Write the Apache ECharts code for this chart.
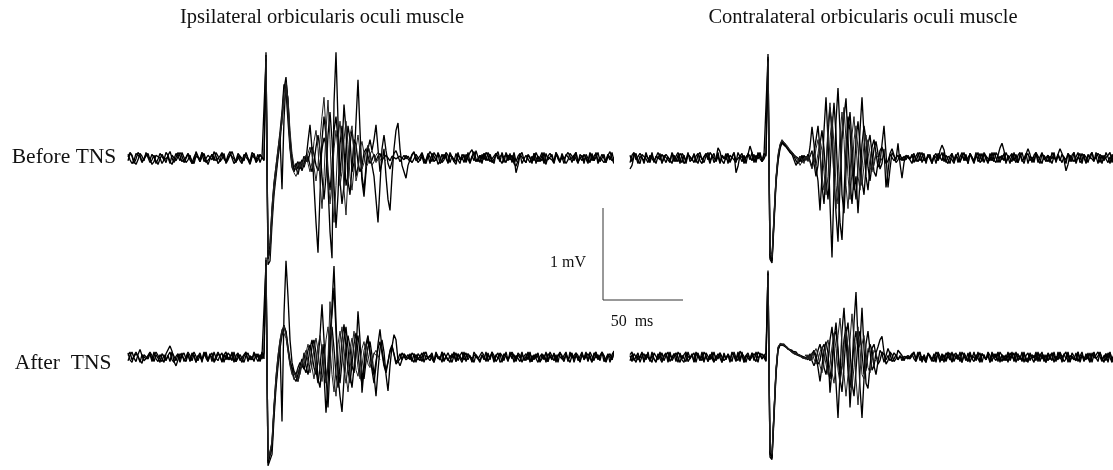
<!DOCTYPE html>
<html>
<head>
<meta charset="UTF-8">
<title>Blink reflex before / after TNS</title>
<script src="https://cdn.jsdelivr.net/npm/echarts@6/dist/echarts.min.js"></script>
<style>
    html, body { margin: 0; padding: 0; background: #fff; }
    #main { width: 1113px; height: 470px; }
</style>
</head>
<body>
<div id="main"></div>
<script>
    // sample period of the traces (ms); amplitudes are in units of 0.01 mV
    var dt = 1.25;
    var ipsiStim = 86.25;   // stimulus time inside the ipsilateral window (ms)
    var contraStim = 87.5;  // stimulus time inside the contralateral window (ms)
    var windowMs = 302.5;

    // scale bar: 50 ms / 1 mV
    var scaleMs = [0, 0, 50];
    var scaleMv = [1, 0, 0];

    // ---------- ipsilateral, before TNS ----------
    var ipsiBeforePre1 = [4,-2,-6,-3,5,7,1,-5,-3,4,6,-1,-7, -4,3,5,0,-6,-2,6,3,-4,-7,-1,5,2, -3,6,4,-5,-2,3,-6,-3,7,2,-4,1,5, -2,-7,-1,4,6,-3,-5,2,6,-1,-4,3,7, 0,-6,-3,5,2,-4,4,6,-2,-7,1,5,-3, -5,3,4,-2];
    var ipsiBeforePre2 = [-3,5,2,-6,-1,6,3,-4,-6,2,5,-2,4, 6,-3,-7,-1,4,2,-5,3,7,0,-5,-3,6, 2,-4,-6,1,5,3,-3,-6,2,4,-1,6,-4, -5,3,1,-2,7,2,-6,-3,5,1,-4,-2,4, 6,-1,-5,3,-3,-6,2,5,0,-4,6,3,-5, -2,4,1,-3];
    var ipsiBeforePre3 = [1,6,3,-4,-7,-2,5,2,-3,6,4,-5,-2, 3,-6,-1,5,7,-2,-4,1,-6,3,5,-3,-1, 6,2,-5,-3,4,-2,-6,1,5,3,-4,6,2, -5,-7,0,4,-3,6,2,-4,-1,5,-6,-2,3, 7,1,-4,-5,2,4,-3,6,-1,-6,3,5,-2, 4,-5,1,3];
    var ipsiBeforeResp1 = [115,-116,-112,-72,-40,-20,0,18,42,75, 88,58,16,-4,-10,-6,-12,-4,-14,-6, 2,-4,6,12,4,-8,-14,-6,10,22, 14,-30,-80,-109,60,115,40,-20,10,58, 30,-25,-40,-10,20,15,-5,-15,-8,6, 10,2,-6,-2,4,-3,2,5,-2,-4, 3,1,-3,2,4,-1,-3,2,1,-2, 3,-1];
    var ipsiBeforeResp2 = [112,-110,-100,-62,-32,-14,4,22,-34,42, 84,62,22,0,-14,-10,-18,-8,-2,-10, -2,18,36,10,-30,-70,-103,-40,20,45, 25,-15,-35,-10,30,45,20,-25,-50,-30, 10,35,20,-15,-5,40,85,30,-20,-35, -10,12,5,-8,-20,-45,-70,-30,10,25, 8,-6,-12,-4,5,8,2,-4,-2,3, -1,2];
    var ipsiBeforeResp3 = [108,-105,-95,-56,-28,-10,8,28,50,80, 72,40,10,-10,-15,-8,-4,-12,-6,2, -4,2,-8,-15,-5,12,25,10,-20,-45, -20,25,50,20,-30,-76,-40,15,35,10, -30,-20,15,30,10,-20,-10,12,-25,-42, -15,10,20,8,20,36,10,-15,-5,10, -20,-45,-57,-20,10,30,38,10,-8,-15, -22,-8];
    var ipsiBeforeResp4 = [110,-108,-104,-66,-36,-16,4,24,48,70, 82,50,12,-8,-16,-20,-14,-6,-10,0, 3,-6,-15,-5,18,30,10,-25,-55,-20, 30,63,20,-40,-70,-30,20,40,15,-35, -62,-20,25,35,5,-25,-15,10,18,5, -10,-6,4,8,2,-5,-3,2,4,-1, -3];
    var ipsiBeforeResp5 = [105,-100,-92,-52,-26,-8,10,26,38,60, 76,66,30,5,-8,-12,-6,-10,-4,-8, -3,5,12,4,-10,-25,-8,20,45,66, 30,-20,-50,-25,10,30,8,-30,-15,20, 40,15,-20,-35,-12,10,25,8,-12,-5, 8,14,4,-8,-4,3,6,-2,-3];
    var ipsiBeforePost1 = [-4,3,6,1,-5,-2,5,-3,-6,2,7,3,-4, -1,5,-6,-3,4,2,-5,6,1,-4,-7,3,5, -2,4,-5,1,6,9,2,-4,-6,3,-1,5,-3, 6,2,-5,-4,3,7,-2,-6,1,4,-3,5,-5, 2,-16,-8,3,6,-2,-5,4,1,-6,5,3,-4, -2,6,-3,-7,2,5,1,-4,6,-1,-5,3,4, -6,-2,5,2,-3,6,-4,-1,3,-6,4,2,-5, 5,-3,1,6,-4,-2,4,-5,3,7,-1,-6,2];
    var ipsiBeforePost2 = [3,-5,-1,4,6,-3,2,-6,-2,5,1,-4,6, 2,-7,-3,4,-1,6,3,-5,2,-4,5,-2,-6, 4,1,-3,6,-5,2,7,-1,-4,3,-6,5,1, -3,4,-2,-6,5,2,-4,6,-1,-5,3,1,-3, 6,-4,2,5,-6,-1,3,4,-5,2,-3,6,1, -4,3,-6,5,-2,-1,4,-5,6,2,-3,1,-6, 4,5,-2,-4,3,6,-5,1,-3,4,-1,-6,5, 2,-3,6,-4,1,3,-5,-2,4,6,-3,1,-4];
    var ipsiBeforePost3 = [-2,4,7,-3,-5,2,6,-1,-4,3,-6,5,2, -3,6,1,-5,-2,4,-6,3,5,-1,-4,6,-2, 1,-5,4,3,-6,2,-3,8,1,-5,4,-2,6, 3,-4,-6,2,5,-1,-3,4,-5,6,1,-2,3, -6,-9,-3,4,6,-2,-5,3,1,-4,5,-6,2, 4,-3,6,-5,1,3,-2,-6,4,2,-4,5,-1, -3,6,2,-5,3,-1,-6,4,5,-2,1,-4,6, -3,2,5,-6,-1,4,3,-5,2,-2,6,-4,1];

    // ---------- ipsilateral, after TNS ----------
    var ipsiAfterPre1 = [5,-3,-6,2,6,1,-4,-7,3,5,-2,4,-5, 1,6,8,-2,-5,3,-4,2,6,-3,-6,1,4, -2,5,-5,-3,6,2,-4,3,-6,1,5,-3,-1, 6,-4,2,5,-6,-2,4,1,-5,3,6,-3,-1, 4,-6,2,5,-4,-2,3,6,-5,1,-3,4,2, -5,3,-2,5];
    var ipsiAfterPre2 = [-4,2,6,-1,-5,3,9,2,-4,-6,1,5,-3, 6,-2,-5,3,1,-6,4,2,13,7,-5,-10,-3, 4,6,-2,-5,3,-4,5,1,-6,2,4,-3,6, -1,-5,3,5,-4,-2,6,1,-6,3,-3,5,2, -4,6,-5,-1,3,4,-6,2,5,-3,1,-5,4, 2,-4,6,-2];
    var ipsiAfterPre3 = [2,6,-3,-5,4,1,-6,3,5,-2,-4,6,2, -5,3,-1,-6,4,5,-3,2,-5,6,1,-4,3, -6,2,5,-2,4,-5,-3,6,1,-4,3,-6,5, 2,-3,4,-5,6,-1,-4,2,5,-6,3,1,-3, 6,-2,-5,4,3,-6,1,5,-4,2,-3,6,-1, 4,-5,2,3];
    var ipsiAfterResp1 = [115,-125,-124,-112,-70,-35,-10,10,25,35, 30,12,-4,-12,-18,-22,-28,-15,-8,-14, -4,8,14,2,-12,-20,-5,25,61,20, -30,-10,30,50,80,30,-20,-45,-63,-25, 10,25,12,-10,-18,5,53,20,-41,-15, 12,20,5,-15,-30,-10,15,32,10,-8, -15,-5,6,12,4,-6,-2,4,-3,2, -1,3];
    var ipsiAfterResp2 = [112,-122,-120,-105,-62,-30,-5,12,-74,50, 111,70,20,-6,-16,-20,-12,-6,-12,5, -10,-20,-8,12,20,5,-25,-35,-10,15, -20,-58,-10,60,105,40,-15,-30,-5,20, 35,10,-20,-35,-12,15,25,5,-18,-25, -5,12,18,2,-20,-45,-15,10,20,6, -20,-39,-10,12,26,20,-4,-10,-3,4, 2,-2];
    var ipsiAfterResp3 = [108,-120,-118,-100,-58,-24,0,18,30,37, 28,10,-6,-14,-24,-28,-20,-10,-2,-12, -18,-6,10,20,8,-15,-30,-12,15,-20, -64,-30,15,35,10,-20,-35,-10,20,38, 12,-15,-30,-8,15,28,5,-20,-30,-8, 15,25,6,-12,-20,-5,10,18,4,-10, -18,-6,8,14,3,-8,-10,-2,5,3, -3,-1];
    var ipsiAfterResp4 = [110,-118,-116,-98,-60,-28,-4,14,28,36, 26,8,-8,-18,-26,-20,-28,-18,-6,-10, 5,15,4,-12,-25,-8,12,25,8,-15, -28,-5,64,20,-25,-45,-15,20,35,10, -20,-40,-15,12,30,10,-12,-25,-10,8, 15,3,-10,-6,4,8,2,-3];
    var ipsiAfterResp5 = [105,-115,-112,-95,-55,-22,2,20,32,34, 22,6,-10,-20,-16,-24,-14,-20,-8,2, 8,-5,-18,-8,10,22,8,-15,-28,-5, 20,35,12,-20,-40,-15,15,30,12,-15, -30,-12,10,22,6,-15,-22,-6,10,18, 4,-8,-12,-3,5,2];
    var ipsiAfterPost1 = [-3,5,2,-6,4,1,-5,3,6,-2,-4,5,-6, 2,4,-3,6,-5,1,3,-6,4,-1,5,-4,2, 6,-3,-5,4,1,-6,3,5,-2,-4,6,2,-5, 3,-1,6,-4,2,5,-6,-3,4,1,-5,6,-2, 3,-4,5,2,-6,1,4,-3,6,-5,2,-1,5, -6,3,4,-2,-5,6,1,-4,3,-6,5,2,-3, 4,-5,6,-1,-3,5,2,-6,4,-2,3,-5,6, 1,-4,5,-3,2,6,-5,-1,4,-6,3,7,-2];
    var ipsiAfterPost2 = [4,-2,-6,3,5,-4,1,6,-3,-5,2,4,-6, 5,1,-3,6,-4,-2,5,3,-6,2,-5,4,1, -3,6,-5,2,4,-1,-6,3,5,-4,2,-3,6, -5,1,4,-6,3,-2,5,2,-4,6,-3,-1,5, -6,2,4,-5,3,1,-4,6,-2,-5,3,5,-6, 1,4,-3,6,-5,2,-1,4,-6,3,5,-2,-4, 6,-3,1,5,-6,2,4,-5,3,-1,6,-4,2, -5,3,6,-2,-4,5,1,-6,3,4,-3,6,9];
    var ipsiAfterPost3 = [1,-5,4,6,-3,-1,5,-6,2,4,-4,3,-5, 6,-2,1,-6,5,3,-4,2,-1,6,-5,3,4, -6,1,5,-3,2,-5,6,4,-2,-6,3,1,-4, 5,-3,6,2,-5,-1,4,-6,3,5,-2,-4,6, 2,-5,3,-1,6,-4,1,5,-6,2,-3,4,6, -5,-2,3,-6,4,1,-3,5,-4,2,6,-1,-5, 3,4,-6,2,-2,5,-4,1,6,-3,-5,4,2, -6,5,-1,3,-4,6,2,-5,1,4,-3,5,8];

    // ---------- contralateral, before TNS ----------
    var contraBeforePre1 = [-12,-8,2,5,-3,-6,4,6,-1,-5,3,5,-4, -2,6,1,-5,-3,4,6,-2,-6,3,1,-4,5, 2,-6,-3,4,6,-1,-5,2,5,-3,-6,1,4, -2,6,3,-5,-1,11,7,-3,-6,2,5,-4,1, 6,-16,-9,3,5,-2,-4,4,13,6,-3,-5,2, 6,-4,-1,5];
    var contraBeforePre2 = [-5,3,6,-2,-4,5,1,-6,3,4,-3,6,-5, 2,-1,5,-6,3,4,-2,-5,6,1,-4,3,-6, 5,2,-3,6,-4,-1,4,-5,3,6,-2,-4,5, 1,-6,3,4,-3,6,-5,2,-1,5,-6,3,4, -2,-5,6,1,-4,3,-6,5,2,-3,4,-5,6, -1,-4,3,5];
    var contraBeforePre3 = [3,-4,5,1,-6,2,4,-3,6,-1,-5,3,5, -6,2,-2,4,6,-5,1,-3,5,-4,2,6,-1, -5,3,-6,4,1,-3,5,-2,-6,3,4,-5,2, 6,-3,-1,5,-4,2,-6,3,5,-2,4,-5,1, 6,-3,-4,2,5,-6,1,4,-2,6,-5,3,-1, 4,-3,5,2];
    var contraBeforeResp1 = [113,-110,-114,-72,-28,-4,10,17,15,13, 10,8,6,3,5,0,-4,2,-3,1, -2,12,34,15,-10,-25,-57,-20,30,66, 20,-50,-108,-30,40,76,30,-40,-60,-15, 30,50,15,-25,-45,-10,30,66,25,-20, -35,-10,12,20,5,-10,-5,15,35,5, -32,-12,6,8,-2,16,-6,-22,-5,3, 2,-2];
    var contraBeforeResp2 = [110,-108,-112,-68,-25,-2,12,16,14,12, 9,7,4,-2,-8,-4,2,-5,3,-2, 4,-3,-10,5,20,35,10,-30,-50,-15, 25,55,30,-20,-60,-91,-30,20,45,65, 20,-25,-50,-20,20,40,15,-25,-40,-10, 15,25,5,-15,-20,-5,8,12,2,-6, -3,4,2,-3,-1,3,-2,1,-3,2, 1,-1];
    var contraBeforeResp3 = [108,-105,-110,-66,-24,0,13,18,16,13, 10,6,5,2,-3,-6,-2,3,-4,2, -3,2,8,-6,-20,-8,15,30,10,-25, -45,-15,30,60,25,-30,-70,-89,-40,10, 45,30,-10,-35,-20,-60,-25,15,35,20, -10,-25,-8,10,18,5,-12,-6,10,-32, -15,5,10,3,-5,-2,4,-3,2,-2, 3,-1];
    var contraBeforeResp4 = [106,-104,-108,-64,-22,2,14,19,17,15, 12,9,7,4,1,-2,-8,-4,0,-3, 2,-5,-12,-4,10,20,5,-20,-35,-10, 35,60,25,-25,-55,-20,25,50,20,-30, -55,-20,25,45,15,-20,-35,-10,15,25, 8,-10,-15,-4,6,8,2,-3];
    var contraBeforeResp5 = [104,-100,-105,-60,-20,4,15,20,18,14, 11,8,5,3,0,-3,1,-2,-6,2, -4,3,6,-2,-8,5,20,8,-15,-40, -20,20,45,15,-30,-50,-15,30,55,20, -20,-45,-15,20,35,10,-20,-30,-8,12, 20,5,-12,-8,4,6,-2];
    var contraBeforePost1 = [-6,3,5,-4,2,6,-3,-5,1,4,-6,3,5, -2,8,14,9,-3,-6,2,5,-4,1,6,-5,3, -2,4,-6,5,1,-3,6,-4,-1,5,-5,2,4, -3,6,-2,-5,3,11,16,8,-4,-6,2,5,-3, 4,-5,1,6,-2,-4,10,4,-5,3,6,-2,-6, 5,1,-4,3,-5,6,2,-3,4,10,5,-2,-14, -7,3,5,-4,1,6,-5,-2,4,-6,3,5,-1, -4,6,2,-5,3,-3,6,1,-6,4,-2,5,3];
    var contraBeforePost2 = [4,-5,2,6,-3,-1,5,-6,3,4,-4,2,-6, 5,1,-3,6,-5,2,4,-2,-6,3,5,-4,1, 6,-3,-5,4,2,-6,3,-1,5,-4,6,2,-5, 1,-3,6,4,-5,2,-2,5,-6,3,1,-4,6, -2,-5,4,3,-6,2,5,-3,1,-5,6,4,-2, -6,3,5,-4,2,-1,6,-5,3,-3,4,1,-6, 5,2,-4,6,-3,-2,5,-6,4,1,-5,3,6, -2,-4,5,2,-6,3,4,-5,1,-3,6,-4,2];
    var contraBeforePost3 = [-2,5,-4,3,6,-5,1,-3,4,6,-6,2,5, -3,-1,6,-4,3,2,-6,5,-2,4,-5,1,6, -3,2,-6,5,3,-4,1,6,-5,-2,4,3,-6, 5,-1,-4,6,2,-5,3,-3,6,1,-6,4,2, -5,3,6,-4,-1,5,-6,2,4,-3,5,-5,1, 6,-2,-4,3,5,-6,2,-3,4,6,-5,1,-2, 5,-4,3,6,-6,1,-2,5,3,-5,4,-1,6, -3,2,-6,4,5,-2,-4,3,6,-5,1,-3,4];

    // ---------- contralateral, after TNS ----------
    var contraAfterPre1 = [2,-5,4,6,-3,-1,5,-6,3,2,-4,6,-2, -5,3,5,-6,1,4,-3,6,-4,-2,5,3,-6, 2,4,-5,6,-1,-3,5,-6,3,1,-4,6,2, -5,3,-2,6,-4,1,5,-6,3,-3,4,2,-5, 6,-1,-4,7,3,-6,2,5,-3,-5,4,1,-6, 5,-2,3,-4];
    var contraAfterPre2 = [-4,3,5,-6,2,-1,6,-5,3,4,-2,-6,5, 1,-3,6,-4,2,5,-6,3,-1,4,-5,6,2, -3,-6,4,5,-2,3,-5,6,1,-4,2,-6,5, 3,-3,6,-5,-1,4,2,-6,5,-2,3,-4,6, 1,-5,4,-3,6,-6,2,3,-4,5,-1,-5,6, 3,-2,-4,5];
    var contraAfterPre3 = [3,6,-4,-2,5,-6,1,4,-3,6,-5,2,3, -6,4,-1,5,-4,2,6,-5,-3,4,1,-6,5, -2,3,6,-5,-1,4,-6,2,5,-3,6,-4,1, -5,3,4,-6,2,-2,5,6,-4,-1,3,-6,5, 2,-3,6,-5,4,1,-6,3,-2,5,-4,6,-1, -3,4,2,-5];
    var contraAfterResp1 = [100,-115,-118,-70,-20,8,14,15,14,12, 10,8,7,5,6,3,4,1,3,-1, 2,-3,4,8,2,-12,-28,-10,8,18, 5,-41,-15,20,40,10,-25,-10,20,35, 5,-58,-20,40,75,20,-35,-70,-25,15, 30,8,-15,-10,5,12,20,24,6,-8, -4,6,3,-5,-2,8,10,2,-4,1, 3,-2];
    var contraAfterResp2 = [98,-112,-116,-66,-18,10,15,16,13,11, 10,9,6,7,4,5,2,3,0,2, -3,4,-4,-10,-3,8,15,5,-12,-20, -5,20,35,10,-30,-70,-20,30,57,20, -15,-35,-10,15,30,10,15,57,10,-30, -36,-10,10,15,2,-8,-4,6,3,-3, 2,-4,-1,5,2,-3,1,3,-2,0, 2,-1];
    var contraAfterResp3 = [96,-110,-114,-64,-16,9,14,16,15,12, 9,7,8,4,5,2,4,0,2,-2, 1,-4,3,6,-2,-8,-4,10,15,2, -15,-25,-5,25,30,5,-25,-40,-10,25, 40,10,-30,-45,-15,20,30,5,-20,-15, 5,15,8,-10,-20,-5,8,4,-6,2, 10,4,-5,-2,3,-3,2,-4,1,3, -2,1];
    var contraAfterResp4 = [95,-108,-112,-62,-14,11,16,17,15,13, 11,8,6,5,3,4,1,2,-1,3, -2,2,-3,5,10,3,-10,-18,-5,12, 20,4,-18,-30,-8,25,45,15,-20,-45, -20,20,50,20,-25,-55,-20,15,25,5, -12,-18,-4,8,4,-3];
    var contraAfterResp5 = [94,-106,-110,-60,-12,12,15,15,14,12, 10,8,5,6,3,2,3,-1,1,-2, 3,-3,5,-2,-8,-3,6,12,4,-8, -20,-8,12,28,10,-15,-30,-12,15,30, 12,-18,-35,-12,18,35,10,-20,-25,-6, 10,12,2,-6,-3];
    var contraAfterPost1 = [-3,5,-2,6,-4,1,3,-6,4,5,-2,-5,6, 2,-4,3,-6,5,1,-3,6,-5,2,4,-1,-6, 5,3,-4,6,-2,-5,3,1,-6,4,5,-3,2, -6,6,-1,-4,5,3,-5,2,-3,6,-4,1,5, -6,2,4,-3,6,-5,-1,3,5,-6,4,-2,1, 6,-5,3,-4,2,5,-6,1,-3,6,4,-5,-2, 3,-6,5,1,-4,6,-2,3,-5,4,2,-6,5, -1,-3,6,4,-5,2,-4,5,3,-6,1,6,-3];
    var contraAfterPost2 = [4,-2,-5,3,6,-4,1,-6,5,2,-3,4,-6, 6,1,-4,3,-5,2,5,-6,4,-2,3,-5,6, 1,-4,5,-6,2,3,-3,6,-5,4,1,-2,5, -6,3,-1,4,-5,6,2,-4,3,-6,5,1,-3, 6,-4,2,-5,4,3,-6,5,-1,2,-4,6,-5, 3,1,-6,4,-3,5,2,-5,6,-2,-4,3,6, -6,2,4,-3,5,-5,1,6,-4,3,-2,5,-6, 4,2,-5,6,-3,1,4,-6,5,-2,3,-4,6];
    var contraAfterPost3 = [-1,6,-4,2,5,-6,3,-3,4,6,-5,1,-2, 5,-6,4,3,-4,6,-1,-5,2,5,-3,6,-6, 2,4,-5,3,-2,6,-4,1,5,-6,3,-3,6, 2,-5,4,-1,6,-6,3,5,-4,2,-2,6,-5, 1,4,-3,6,-6,2,5,-4,3,-1,6,-5,4, -2,3,-6,5,1,-4,6,-3,2,5,-6,4,-2, 6,-5,1,3,-4,6,-6,2,4,-3,5,-5,1, 6,-2,-4,5,3,-6,4,-1,6,-5,2,3,-4];

    // build [ms, mV] points aligned on the stimulus
    function trace(stim, pre, resp, post) {
        var pts = [];
        pre.forEach(function (v, j) { pts.push([stim - (pre.length - j) * dt, v / 100]); });
        resp.concat(post || []).forEach(function (v, k) { pts.push([stim + k * dt, v / 100]); });
        return pts;
    }

    var panels = [
        { stim: ipsiStim, traces: [
            [ipsiBeforePre1, ipsiBeforeResp1, ipsiBeforePost1],
            [ipsiBeforePre2, ipsiBeforeResp2, ipsiBeforePost2],
            [ipsiBeforePre3, ipsiBeforeResp3, ipsiBeforePost3],
            [[], ipsiBeforeResp4], [[], ipsiBeforeResp5]] },
        { stim: ipsiStim, traces: [
            [ipsiAfterPre1, ipsiAfterResp1, ipsiAfterPost1],
            [ipsiAfterPre2, ipsiAfterResp2, ipsiAfterPost2],
            [ipsiAfterPre3, ipsiAfterResp3, ipsiAfterPost3],
            [[], ipsiAfterResp4], [[], ipsiAfterResp5]] },
        { stim: contraStim, traces: [
            [contraBeforePre1, contraBeforeResp1, contraBeforePost1],
            [contraBeforePre2, contraBeforeResp2, contraBeforePost2],
            [contraBeforePre3, contraBeforeResp3, contraBeforePost3],
            [[], contraBeforeResp4], [[], contraBeforeResp5]] },
        { stim: contraStim, traces: [
            [contraAfterPre1, contraAfterResp1, contraAfterPost1],
            [contraAfterPre2, contraAfterResp2, contraAfterPost2],
            [contraAfterPre3, contraAfterResp3, contraAfterPost3],
            [[], contraAfterResp4], [[], contraAfterResp5]] }
    ];

    // 1 mV = 92 px, 50 ms = 80 px
    var grids = [
        { left: 128, top: 38.4, width: 484, height: 239.2 },
        { left: 128, top: 244.4, width: 484, height: 239.2 },
        { left: 628, top: 38.4, width: 484, height: 239.2 },
        { left: 628, top: 244.4, width: 484, height: 239.2 },
        { left: 603, top: 208, width: 80, height: 92 }
    ];
    var xAxes = [], yAxes = [], series = [];
    grids.forEach(function (g, i) {
        var bar = i === 4;
        xAxes.push({ type: 'value', gridIndex: i, min: 0, max: bar ? 50 : windowMs, show: false });
        yAxes.push({ type: 'value', gridIndex: i, min: bar ? 0 : -1.3, max: bar ? 1 : 1.3, show: false });
    });

    panels.forEach(function (p, i) {
        p.traces.forEach(function (t) {
            var full = !!t[2];
            series.push({
                type: 'line', xAxisIndex: i, yAxisIndex: i,
                data: trace(p.stim, t[0], t[1], t[2]),
                symbol: 'none', clip: true, silent: true,
                lineStyle: { color: full ? '#000' : '#222', width: full ? 1.35 : 1 }
            });
        });
    });
    series.push({
        type: 'line', xAxisIndex: 4, yAxisIndex: 4, symbol: 'none', silent: true, clip: false,
        data: scaleMs.map(function (x, j) { return [x, scaleMv[j]]; }),
        lineStyle: { color: '#333', width: 1 }
    });

    var serif = '"Liberation Serif", "Times New Roman", serif';
    function label(text, x, y, size) {
        return { type: 'text', x: x, y: y, silent: true,
            style: { text: text, font: size + 'px ' + serif, fill: '#111', textAlign: 'center', textVerticalAlign: 'middle' } };
    }

    var chart = echarts.init(document.getElementById('main'));
    chart.setOption({
        animation: false,
        backgroundColor: '#fff',
        grid: grids,
        xAxis: xAxes,
        yAxis: yAxes,
        series: series,
        graphic: [
            label('Ipsilateral orbicularis oculi muscle', 322, 18, 20.5),
            label('Contralateral orbicularis oculi muscle', 863, 18, 20.5),
            label('Before TNS', 64, 157, 21.5),
            label('After  TNS', 63, 363, 21.5),
            label('1 mV', 568, 263, 16),
            label('50  ms', 632, 322, 16)
        ]
    });
</script>
</body>
</html>
